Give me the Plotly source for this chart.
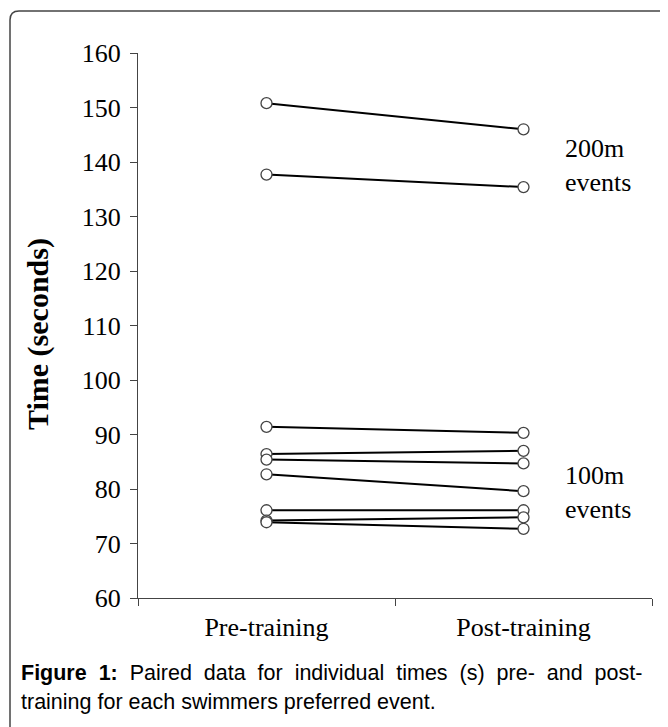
import plotly.graph_objects as go

categories = ["Pre-training", "Post-training"]
pre_times = [150.8, 137.7, 91.4, 86.4, 85.4, 82.7, 76.1, 74.2, 73.9]
post_times = [146.0, 135.4, 90.3, 87.0, 84.7, 79.6, 76.1, 74.8, 72.7]
y_ticks = [60, 70, 80, 90, 100, 110, 120, 130, 140, 150, 160]

W, H = 668, 727
OFF = 8  # page body margin
ML, MR, MT, MB = 130, 24, 45, 137
PW = W - ML - MR
PH = H - MT - MB

def px(x):
    return (x - OFF - ML) / PW

def py(y):
    return (H - MB - (y - OFF)) / PH

fig = go.Figure()
for a, b in zip(pre_times, post_times):
    fig.add_trace(go.Scatter(
        x=categories, y=[a, b], mode="lines+markers",
        line=dict(color="black", width=2),
        marker=dict(symbol="circle", size=11, color="white",
                    line=dict(color="#444444", width=1.3)),
        showlegend=False, hoverinfo="skip"))

serif = "Liberation Serif, Times New Roman, serif"
sans = "Liberation Sans, Arial, sans-serif"

fig.update_layout(
    width=W, height=H,
    margin=dict(l=ML, r=MR, t=MT, b=MB),
    paper_bgcolor="white", plot_bgcolor="white",
    font=dict(family=serif, size=26, color="black"),
    xaxis=dict(type="category", range=[-0.5, 1.5], tickson="boundaries",
               ticks="outside", ticklen=7, tickcolor="#444444",
               showline=True, linecolor="#444444", linewidth=1.3,
               showgrid=False, zeroline=False, ticklabelstandoff=6,
               tickfont=dict(family=serif, size=26)),
    yaxis=dict(range=[60, 160], tickvals=y_ticks, ticks="outside",
               ticklen=7, tickcolor="#444444", showline=True,
               linecolor="#444444", linewidth=1.3, showgrid=False,
               zeroline=False, ticklabelstandoff=4,
               tickfont=dict(family=serif, size=26)),
)

fig.add_annotation(x=px(38), y=py(334), xref="paper", yref="paper",
                   text="<b>Time (seconds)</b>", textangle=-90,
                   showarrow=False, xanchor="center", yanchor="middle",
                   font=dict(family=serif, size=30))

fig.add_annotation(x=px(563), y=py(166), xref="paper", yref="paper",
                   text="200m<br>events", showarrow=False, xanchor="left",
                   yanchor="middle", align="left",
                   font=dict(family=serif, size=26))
fig.add_annotation(x=px(563), y=py(492), xref="paper", yref="paper",
                   text="100m<br>events", showarrow=False, xanchor="left",
                   yanchor="middle", align="left",
                   font=dict(family=serif, size=26))

sp = "&nbsp; "
line1 = sp.join(["<b>Figure", "1:</b>", "Paired", "data", "for", "individual",
                 "times", "(s)", "pre-", "and", "post-"])
fig.add_annotation(x=px(19), y=py(673), xref="paper", yref="paper",
                   text=line1,
                   showarrow=False, xanchor="left", yanchor="middle",
                   font=dict(family=sans, size=21.5))
fig.add_annotation(x=px(19), y=py(702), xref="paper", yref="paper",
                   text="training for each swimmers preferred event.",
                   showarrow=False, xanchor="left", yanchor="middle",
                   font=dict(family=sans, size=21.5))

# rounded outer border
x0, y0, x1, y1, r = 10, 11, 700, 770, 9
path = (f"M {px(x0)},{py(y1)} L {px(x0)},{py(y0 + r)} "
        f"Q {px(x0)},{py(y0)} {px(x0 + r)},{py(y0)} "
        f"L {px(x1)},{py(y0)}")
fig.add_shape(type="path", path=path, xref="paper", yref="paper",
              line=dict(color="#444444", width=1.5))

fig.write_html("out.html")
